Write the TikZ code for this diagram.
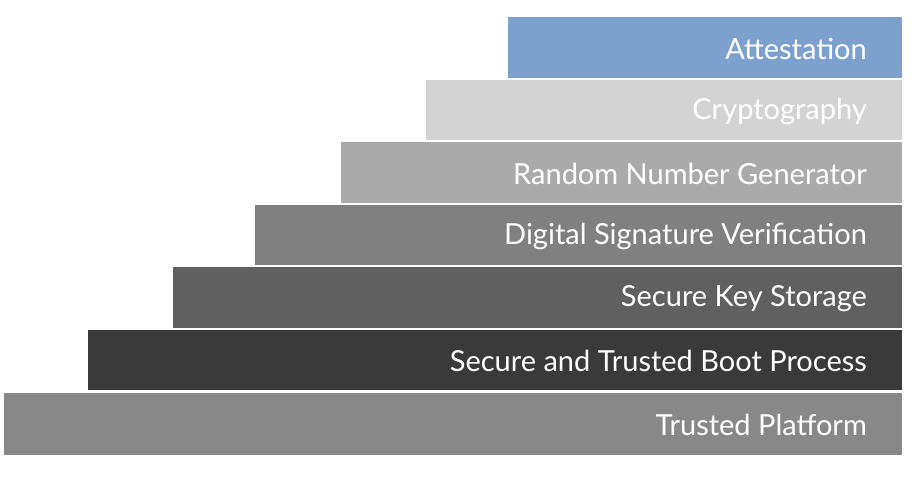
\documentclass[tikz,border=0pt]{standalone}
\usepackage{fontspec}
\setmainfont{Lato}
\definecolor{cA}{HTML}{7DA1CF}
\definecolor{cB}{HTML}{D3D3D3}
\definecolor{cC}{HTML}{AAAAAA}
\definecolor{cD}{HTML}{808080}
\definecolor{cE}{HTML}{606060}
\definecolor{cF}{HTML}{3A3A3A}
\definecolor{cG}{HTML}{888888}
\tikzset{bar/.style={fill=#1,draw=none},lbl/.style={text=white,anchor=east,font=\fontsize{29}{32}\selectfont,inner sep=0pt}}
\begin{document}
\begin{tikzpicture}[x=1pt,y=-1pt]
\useasboundingbox (0,0) rectangle (912,484);
\foreach \x/\t/\b/\c/\n/\s in {508/17/78/cA/a/Attestation,426/80/140/cB/b/Cryptography,341/142/203/cC/c/Random Number Generator,255/205/265/cD/d/Digital Signature Verification,173/267/328/cE/e/Secure Key Storage,88/330/390/cF/f/Secure and Trusted Boot Process,4/393/455/cG/g/Trusted Platform}{
  \fill[bar=\c] (\x,\t) rectangle (902,\b);
  \node[lbl] (\n) at (867,{(\t+\b)/2+1}) {\s};
}
\end{tikzpicture}
\end{document}
